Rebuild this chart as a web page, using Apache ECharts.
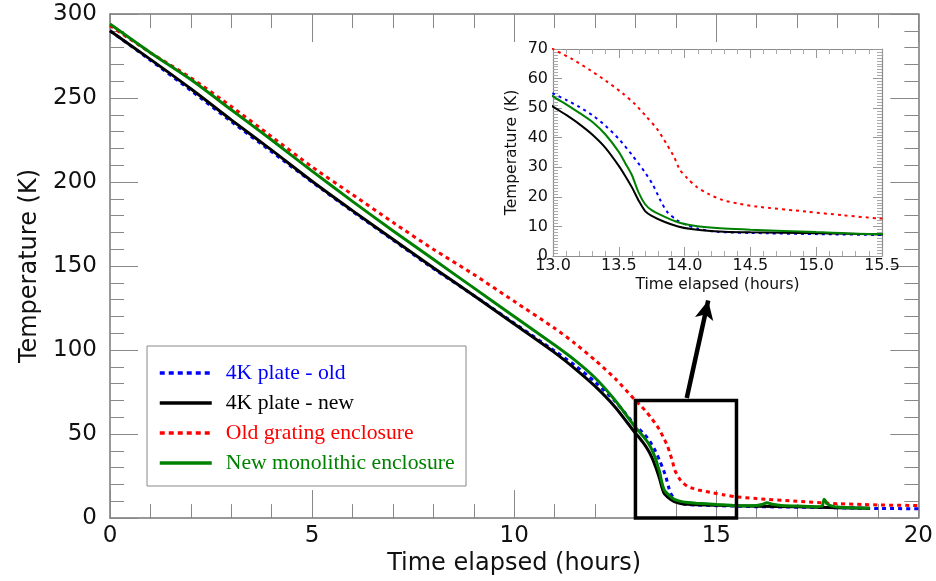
<!DOCTYPE html>
<html>
<head>
<meta charset="utf-8">
<script src="https://cdn.jsdelivr.net/npm/echarts@6/dist/echarts.min.js"></script>
<style>
  html, body { margin: 0; padding: 0; background: #fff; }
  #chart { width: 936px; height: 581px; }
</style>
</head>
<body>
<div id="chart"></div>
<script>
// Cool-down curves: elapsed time (hours) and temperature (K) per sensor.
const plateOldHours = [0,1,2,3,4,5,6,7,8,9,10,11,11.5,12,12.5,13,13.1,13.2,13.3,13.4,13.5,13.6,13.7,13.76,13.82,13.87,13.94,14.02,14.1,14.24,14.5,15,15.5,16,17,17.74,18.5,19,20];
const plateOldTemps = [290,272.5,254.5,236,218,200,182.5,165.5,148.5,132.5,116,99.5,91,81,69.5,55,52.8,50.4,47.6,44,39.6,34.2,28.2,24,18.5,14.8,12.2,10.4,9.3,8.2,7.8,7.4,7.1,6.8,6.5,6.3,5.9,5.7,5.6];

const plateNewHours = [0,1,2,3,4,5,6,7,8,9,10,11,11.5,12,12.5,13,13.1,13.2,13.3,13.4,13.5,13.55,13.6,13.65,13.7,13.75,13.85,13.95,14.05,14.15,14.3,14.5,15,15.5,16,17,18,18.8];
const plateNewTemps = [290,273,255.5,237,219,200.5,183,166,149,132.5,115.5,98.5,89,78.5,66,50.5,47.7,44.6,41,36.5,30.5,27,23.2,18.8,15.2,13.6,11.5,10.0,9.1,8.6,8.2,8.0,7.7,7.3,7.1,6.7,6.2,5.8];

const gratingOldHours = [0,1,2,3,4,5,6,7,8,9,10,11,11.5,12,12.5,13,13.15,13.28,13.4,13.53,13.62,13.71,13.79,13.86,13.92,13.965,14.02,14.09,14.18,14.29,14.4,14.55,14.93,15.2,15.48,16,17,18,18.65,19,20];
const gratingOldTemps = [293,277,262,245,227,209,192.5,176,160,145,129,113,104,94,83,70,66.5,62.9,59.3,55,51.5,47.1,43,38.1,33.5,29.1,26.3,23.4,21,18.9,17.8,16.7,15,13.8,12.7,11.6,10,8.6,8.1,7.8,7.5];

const monolithicHours = [0,1,2,3,4,5,6,7,8,9,10,11,11.5,12,12.5,13,13.1,13.2,13.3,13.4,13.5,13.55,13.6,13.65,13.7,13.75,13.85,13.95,14.05,14.15,14.3,14.5,15,15.5,16,16.15,16.25,16.4,16.6,17,17.5,17.62,17.67,17.75,17.85,18.07,18.4,18.8];
const monolithicTemps = [294,277,261,243,225,206.5,188.5,171,154,137,120,103,94,83.5,70,54,51.3,48.4,45.3,41,35.2,31.3,27.3,21.5,17.5,15.5,13.2,11.4,10.4,9.8,9.3,8.9,8.1,7.4,7.5,8.2,9.1,8.2,7.5,7.2,6.8,7.2,11.2,8.5,7.3,6.4,6.1,5.9];

// Region enlarged in the inset, and the pointer towards the inset.
const zoomBoxHours = [13, 13, 15.5, 15.5, 13];
const zoomBoxTemps = [0, 70, 70, 0, 0];
const arrowHours = [14.27, 14.8];
const arrowTemps = [71.5, 129.5];

const seriesNames = ['4K plate - old', '4K plate - new', 'Old grating enclosure', 'New monolithic enclosure'];
const seriesColors = ['#0000ff', '#000000', '#ff0000', '#008000'];
const seriesDashed = [true, false, true, false];
const seriesHours = [plateOldHours, plateNewHours, gratingOldHours, monolithicHours];
const seriesTemps = [plateOldTemps, plateNewTemps, gratingOldTemps, monolithicTemps];

const zip = (xs, ys) => xs.map((x, i) => [x, ys[i]]);

const SANS = 'DejaVu Sans';
const SERIF = 'Liberation Serif';

function makeCurve(i, inset) {
  return {
    type: 'line',
    name: seriesNames[i],
    xAxisIndex: inset ? 2 : 0,
    yAxisIndex: inset ? 2 : 0,
    data: zip(seriesHours[i], seriesTemps[i]),
    showSymbol: false,
    symbol: 'none',
    smooth: 0.25,
    clip: true,
    silent: true,
    z: inset ? 10 : 3,
    lineStyle: {
      color: seriesColors[i],
      width: inset ? 2 : 3,
      type: seriesDashed[i] ? (inset ? [3, 4] : [4, 4]) : 'solid',
      cap: 'butt'
    },
    itemStyle: { color: seriesColors[i] }
  };
}

function frameAxis(opts) {
  const o = opts.inset;
  return {
    type: 'value',
    gridIndex: o ? 1 : 0,
    position: opts.position,
    min: opts.min,
    max: opts.max,
    interval: opts.interval,
    axisLine: { show: true, onZero: false, lineStyle: { color: o ? '#8a8a8a' : '#777', width: o ? 1.2 : 1.5 } },
    axisTick: { show: true, inside: true, length: o ? 9 : 28, lineStyle: { color: o ? '#999' : '#888', width: 1 } },
    minorTick: { show: true, splitNumber: opts.minor, length: o ? 5 : 14, lineStyle: { color: o ? '#aaa' : '#888', width: 1 } },
    splitLine: { show: false },
    minorSplitLine: { show: false },
    axisLabel: opts.label ? Object.assign({
      show: true, color: '#111', fontFamily: SANS, showMinLabel: true, showMaxLabel: true, hideOverlap: false
    }, opts.label) : { show: false },
    name: opts.name || '',
    nameLocation: 'middle',
    nameGap: opts.nameGap || 0,
    nameTextStyle: opts.nameStyle || {}
  };
}

const chart = echarts.init(document.getElementById('chart'), null, { renderer: 'canvas' });

const series = [];
for (let i = 0; i < 4; i++) series.push(makeCurve(i, false));
series.push({
  type: 'line',
  name: 'zoom box',
  xAxisIndex: 0, yAxisIndex: 0,
  data: zip(zoomBoxHours, zoomBoxTemps),
  symbol: 'none', showSymbol: false, clip: false, silent: true, z: 6,
  lineStyle: { color: '#000', width: 3.5, join: 'miter', cap: 'square' },
  markLine: {
    silent: true,
    animation: false,
    symbol: ['none', 'arrow'],
    symbolSize: [14, 19],
    label: { show: false },
    emphasis: { disabled: true },
    lineStyle: { color: '#000', width: 4.5, type: 'solid' },
    data: [[{ coord: [arrowHours[0], arrowTemps[0]] }, { coord: [arrowHours[1], arrowTemps[1]] }]]
  }
});
for (let i = 0; i < 4; i++) series.push(makeCurve(i, true));

chart.setOption({
  animation: false,
  backgroundColor: '#fff',
  grid: [
    { left: 110, top: 14, width: 810, height: 508, containLabel: false },
    { left: 553, top: 49, width: 329, height: 207, containLabel: false, show: true, backgroundColor: '#fff', borderWidth: 0, z: 8 }
  ],
  xAxis: [
    frameAxis({ position: 'bottom', min: 0, max: 20, interval: 5, minor: 5,
      label: { fontSize: 23, margin: 6 },
      name: 'Time elapsed (hours)', nameGap: 31, nameStyle: { fontSize: 24, color: '#111', fontFamily: SANS } }),
    frameAxis({ position: 'top', min: 0, max: 20, interval: 5, minor: 5 }),
    Object.assign(frameAxis({ inset: true, position: 'bottom', min: 13, max: 15.5, interval: 0.5, minor: 5,
      label: { fontSize: 16, margin: 2, formatter: v => v.toFixed(1) },
      name: 'Time elapsed (hours)', nameGap: 21, nameStyle: { fontSize: 15.5, color: '#111', fontFamily: SANS } }), { z: 9 }),
    Object.assign(frameAxis({ inset: true, position: 'top', min: 13, max: 15.5, interval: 0.5, minor: 5 }), { z: 9 })
  ],
  yAxis: [
    frameAxis({ position: 'left', min: 0, max: 300, interval: 50, minor: 5,
      label: { fontSize: 23, margin: 13 },
      name: 'Temperature (K)', nameGap: 68, nameStyle: { fontSize: 24, color: '#111', fontFamily: SANS } }),
    frameAxis({ position: 'right', min: 0, max: 300, interval: 50, minor: 5 }),
    Object.assign(frameAxis({ inset: true, position: 'left', min: 0, max: 70, interval: 10, minor: 10,
      label: { fontSize: 16, margin: 5 },
      name: 'Temperature (K)', nameGap: 33, nameStyle: { fontSize: 15.5, color: '#111', fontFamily: SANS } }), { z: 9 }),
    Object.assign(frameAxis({ inset: true, position: 'right', min: 0, max: 70, interval: 10, minor: 10 }), { z: 9 })
  ],
  legend: {
    show: true,
    orient: 'vertical',
    left: 158,
    top: 362,
    itemWidth: 52,
    itemHeight: 14,
    itemGap: 8,
    selectedMode: false,
    padding: 0,
    itemStyle: { opacity: 0, color: 'transparent', borderWidth: 0 },
    lineStyle: { width: 3.5 },
    textStyle: { fontFamily: SERIF, fontSize: 21.7, lineHeight: 22, padding: [0, 0, 0, 9] },
    data: seriesNames.map((n, i) => ({
      name: n,
      textStyle: { color: seriesColors[i] },
      lineStyle: { width: 3.5, type: seriesDashed[i] ? [5, 4] : 'solid' }
    }))
  },
  graphic: [
    { type: 'rect', shape: { x: 147, y: 346, width: 319, height: 140 }, style: { fill: 'none', stroke: '#888', lineWidth: 1 }, z: 1, silent: true }
  ],
  series: series
});
</script>
</body>
</html>
